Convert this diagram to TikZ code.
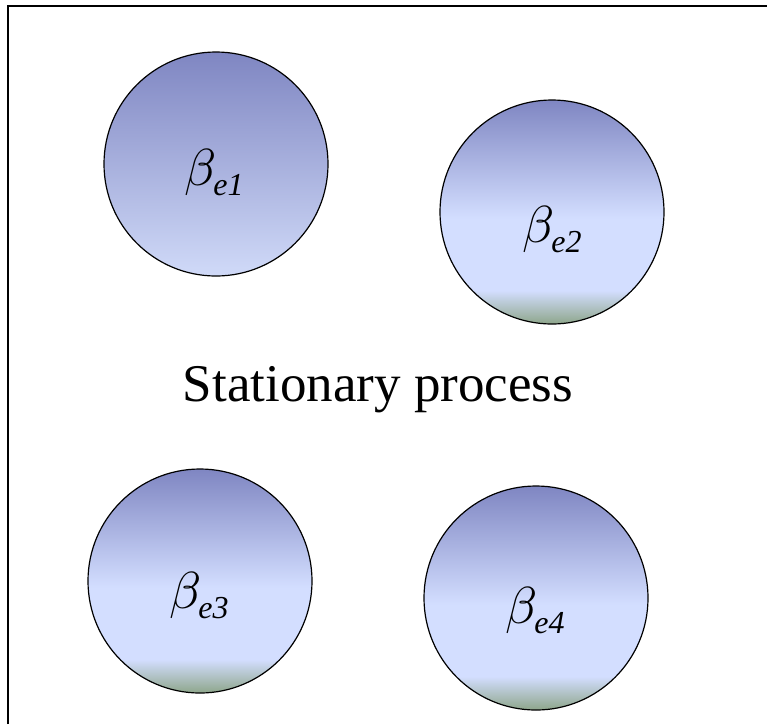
\documentclass[tikz,border=0pt]{standalone}
\usepackage{graphicx}
\usepackage{fontspec}
\setmainfont{Liberation Serif}
\definecolor{topc}{HTML}{7F86C2}
\definecolor{lowA}{HTML}{D0DAF8}
\definecolor{lightc}{HTML}{D3DEFF}
\definecolor{greenc}{HTML}{8EA68B}
\pgfdeclareverticalshading{ballA}{100bp}{color(0bp)=(lowA); color(25bp)=(lowA); color(75bp)=(topc); color(100bp)=(topc)}
\pgfdeclareverticalshading{ballB}{100bp}{color(0bp)=(greenc); color(25bp)=(greenc); color(32.5bp)=(lightc); color(48.5bp)=(lightc); color(75bp)=(topc); color(100bp)=(topc)}
\newcommand\betalbl[1]{\scalebox{5.2}{$\beta$}\kern-3pt\raisebox{-10pt}{\fontsize{32pt}{32pt}\selectfont\itshape e#1}}
\tikzset{
  ball/.style={circle, draw=black, line width=1.2pt, minimum size=224pt, inner sep=0pt},
  lbl/.style={inner sep=0pt, anchor=center},
  frameline/.style={line width=2pt, draw=black}
}
\begin{document}
\begin{tikzpicture}[x=1pt,y=-1pt]
\useasboundingbox (0,0) rectangle (767,724);
\fill[white] (0,0) rectangle (767,724);
\coordinate (fb) at (8,724);
\coordinate (fc) at (8,6);
\coordinate (fr) at (767,6);
\draw[frameline] (fb) -- (fc) -- (fr);
\node[ball, shading=ballA] (c1) at (216,164) {};
\node[ball, shading=ballB] (c2) at (552,212) {};
\node[ball, shading=ballB] (c3) at (200,581) {};
\node[ball, shading=ballB] (c4) at (536,598) {};
\node[lbl] (l1) at (214,173) {\betalbl{1}};
\node[lbl] (l2) at (552,230) {\betalbl{2}};
\node[lbl] (l3) at (199,596) {\betalbl{3}};
\node[lbl] (l4) at (535,611) {\betalbl{4}};
\node[inner sep=0pt, font=\fontsize{53pt}{53pt}\selectfont] (t) at (378,390) {Stationary process};
\end{tikzpicture}
\end{document}
